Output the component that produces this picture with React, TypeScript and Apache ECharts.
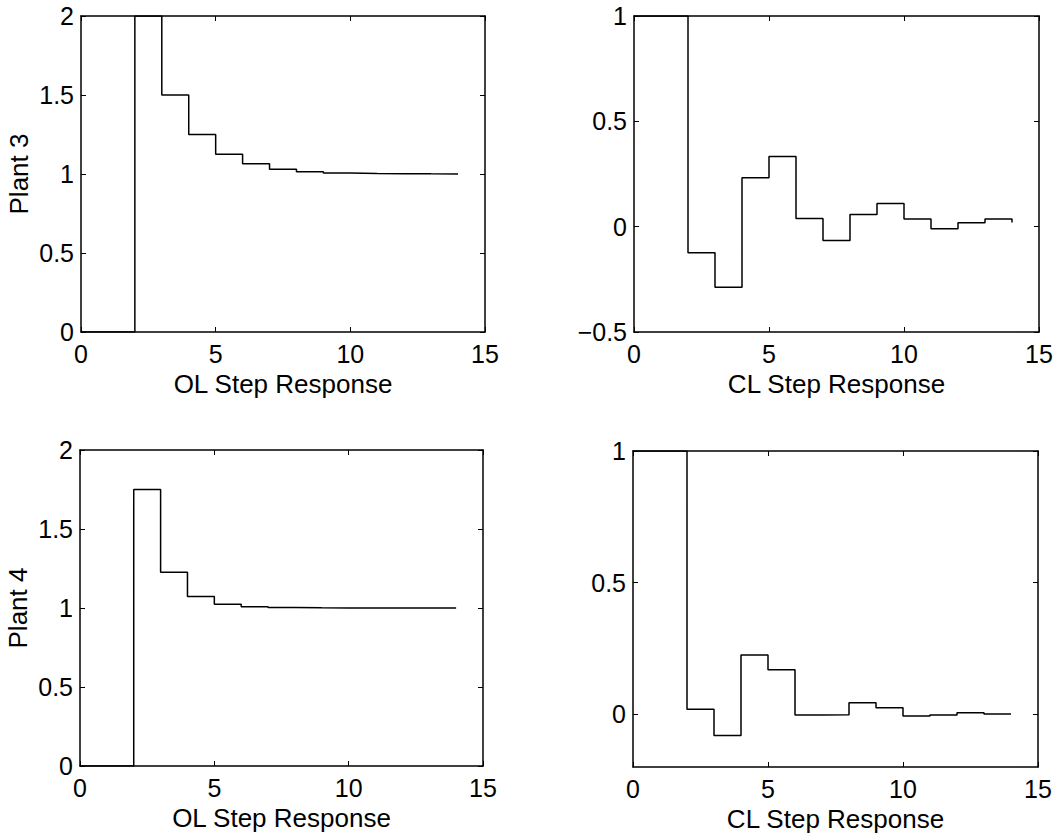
import React, { useEffect, useRef } from "react";
import * as echarts from "echarts";

// sample instants k = 0..14
const STEPS = [0, 1, 2, 3, 4, 5, 6, 7, 8, 9, 10, 11, 12, 13, 14];

// Plant 3
const OL_PLANT3 = [0, 0, 2, 1.5, 1.25, 1.125, 1.065, 1.03, 1.014, 1.006, 1.003, 1.002, 1.001, 1.0005, 1.0005];
const CL_PLANT3 = [1, 1, -0.124, -0.288, 0.232, 0.333, 0.039, -0.066, 0.058, 0.11, 0.036, -0.01, 0.018, 0.036, 0.02];

// Plant 4
const OL_PLANT4 = [0, 0, 1.75, 1.226, 1.072, 1.023, 1.008, 1.003, 1.001, 1.0, 1.0, 1.0, 1.0, 1.0, 1.0];
const CL_PLANT4 = [1, 1, 0.019, -0.08, 0.225, 0.169, -0.003, -0.002, 0.044, 0.025, -0.006, -0.003, 0.006, 0.001, 0.001];

// tick values
const X_TICKS = [0, 5, 10, 15];
const Y_TICKS_OL = [0, 0.5, 1, 1.5, 2];
const Y_TICKS_CL3 = [-0.5, 0, 0.5, 1];
const Y_TICKS_CL4 = [0, 0.5, 1];

const X_NAMES = ["OL Step Response", "CL Step Response", "OL Step Response", "CL Step Response"];
const Y_NAMES = ["Plant 3", "", "Plant 4", ""];

const FONT = "Liberation Sans";

function fmt(v: number) {
  return String(v).replace("-", "\u2212");
}

function buildOption() {
  const layouts = [
    { left: 81, top: 16, width: 404, height: 316 },
    { left: 634, top: 16, width: 405, height: 316 },
    { left: 80, top: 450, width: 403, height: 316 },
    { left: 633, top: 451, width: 405, height: 316 },
  ];
  const yRanges = [
    { min: 0, max: 2, ticks: Y_TICKS_OL },
    { min: -0.5, max: 1, ticks: Y_TICKS_CL3 },
    { min: 0, max: 2, ticks: Y_TICKS_OL },
    { min: -0.2, max: 1, ticks: Y_TICKS_CL4 },
  ];
  const datasets = [OL_PLANT3, CL_PLANT3, OL_PLANT4, CL_PLANT4];

  const axisLine = { show: true, onZero: false, lineStyle: { color: "#000", width: 1.5 } };
  const axisTick = (vals: number[]) => ({
    show: true,
    inside: true,
    length: 5,
    customValues: vals,
    lineStyle: { color: "#000", width: 1 },
  });
  const label = (vals: number[], show: boolean, margin: number) => ({
    show,
    customValues: vals,
    color: "#000",
    fontSize: 25,
    fontFamily: FONT,
    margin,
    formatter: (v: number) => fmt(v),
  });
  const nameStyle = { color: "#000", fontSize: 26, fontFamily: FONT };

  const grid: any[] = [];
  const xAxis: any[] = [];
  const yAxis: any[] = [];
  const series: any[] = [];

  layouts.forEach((l, i) => {
    grid.push({ ...l, containLabel: false });
    const yr = yRanges[i];
    xAxis.push({
      type: "value",
      gridIndex: i,
      position: "bottom",
      min: 0,
      max: 15,
      axisLine,
      axisTick: axisTick(X_TICKS),
      axisLabel: label(X_TICKS, true, 9),
      splitLine: { show: false },
      name: X_NAMES[i],
      nameLocation: "middle",
      nameGap: 39,
      nameTextStyle: nameStyle,
    });
    xAxis.push({
      type: "value",
      gridIndex: i,
      position: "top",
      min: 0,
      max: 15,
      axisLine,
      axisTick: axisTick(X_TICKS),
      axisLabel: { show: false },
      splitLine: { show: false },
    });
    yAxis.push({
      type: "value",
      gridIndex: i,
      position: "left",
      min: yr.min,
      max: yr.max,
      axisLine,
      axisTick: axisTick(yr.ticks),
      axisLabel: label(yr.ticks, true, 7),
      splitLine: { show: false },
      name: Y_NAMES[i],
      nameLocation: "middle",
      nameGap: 49,
      nameRotate: 90,
      nameTextStyle: nameStyle,
    });
    yAxis.push({
      type: "value",
      gridIndex: i,
      position: "right",
      min: yr.min,
      max: yr.max,
      axisLine,
      axisTick: axisTick(yr.ticks),
      axisLabel: { show: false },
      splitLine: { show: false },
    });
    series.push({
      type: "line",
      step: "end",
      xAxisIndex: 2 * i,
      yAxisIndex: 2 * i,
      symbol: "none",
      showSymbol: false,
      lineStyle: { color: "#000", width: 1.5 },
      data: STEPS.map((x, k) => [x, datasets[i][k]]),
    });
  });

  return {
    animation: false,
    backgroundColor: "#fff",
    grid,
    xAxis,
    yAxis,
    series,
  };
}

export default function App() {
  const ref = useRef<HTMLDivElement>(null);
  useEffect(() => {
    if (!ref.current) return;
    const chart = echarts.init(ref.current, undefined, { renderer: "svg" });
    chart.setOption(buildOption() as any);
    return () => chart.dispose();
  }, []);
  return (
    <div
      ref={ref}
      style={{ position: "fixed", left: 0, top: 0, width: 1059, height: 838, background: "#fff" }}
    />
  );
}
